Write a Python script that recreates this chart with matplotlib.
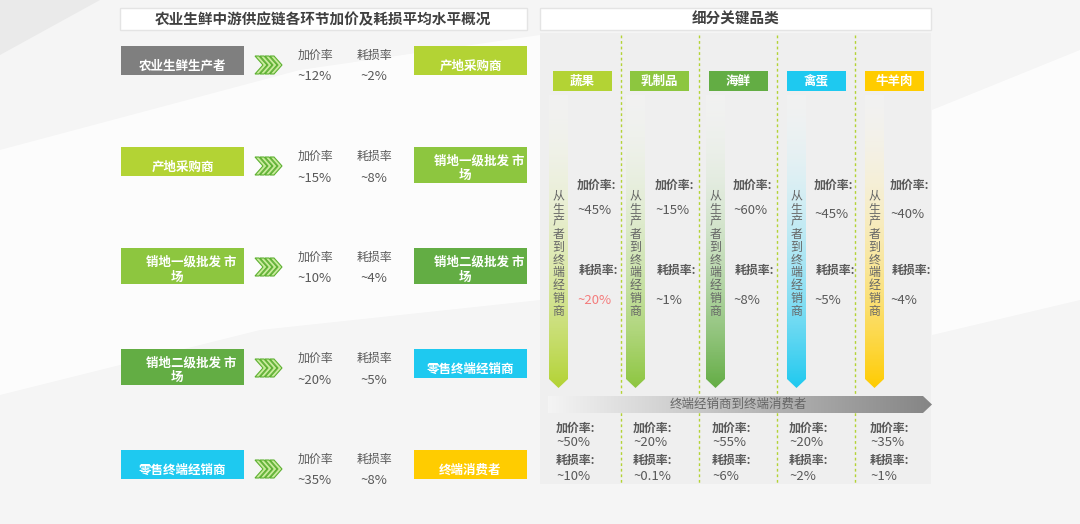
import matplotlib.pyplot as plt
import numpy as np
from matplotlib.patches import Rectangle, Polygon
from matplotlib.colors import to_rgb

plt.rcParams['font.family'] = ['Noto Sans CJK SC', 'DejaVu Sans']

# 供应链各环节（左侧）
stage_from = ["农业生鲜生产者", "产地采购商", "销地一级批发 市\n场", "销地二级批发 市\n场", "零售终端经销商"]
stage_to = ["产地采购商", "销地一级批发 市\n场", "销地二级批发 市\n场", "零售终端经销商", "终端消费者"]
stage_markup = [12, 15, 10, 20, 35]
stage_loss = [2, 8, 4, 5, 8]
stage_colors = {
    "农业生鲜生产者": "#7f7f7f",
    "产地采购商": "#b3d334",
    "销地一级批发 市\n场": "#8dc63f",
    "销地二级批发 市\n场": "#63ad44",
    "零售终端经销商": "#1ec9f0",
    "终端消费者": "#ffcc00",
}

# 细分关键品类（右侧）
categories = ["蔬果", "乳制品", "海鲜", "禽蛋", "牛羊肉"]
cat_colors = ["#b3d334", "#8dc63f", "#63ad44", "#1ec9f0", "#ffcc00"]
up_markup = [45, 15, 60, 45, 40]     # 从生产者到终端经销商
up_loss = [20, 1, 8, 5, 4]
down_markup = [50, 20, 55, 20, 35]   # 终端经销商到终端消费者
down_loss = [10, 0.1, 6, 2, 1]
up_loss_red = ["蔬果"]

TXT = "#595959"

fig = plt.figure(figsize=(10.8, 5.24), dpi=100, facecolor="#f5f5f5")
ax = fig.add_axes([0, 0, 1, 1])


def reset():
    ax.set_xlim(0, 1080)
    ax.set_ylim(524, 0)
    ax.axis("off")


reset()

# faint background streaks
ax.add_patch(Polygon([(0, 0), (100, 0), (0, 55)], color="#eaeaea", lw=0, zorder=0))
ax.add_patch(Polygon([(0, 150), (300, 70), (540, 35), (540, 300), (260, 330), (0, 395)],
                     color="white", alpha=0.75, lw=0, zorder=0))
ax.add_patch(Polygon([(932, 110), (1080, 50), (1080, 300), (932, 335)],
                     color="white", alpha=0.75, lw=0, zorder=0))


def gradient(x0, x1, y0, y1, c0, c1, a0, a1, clip, horizontal=False, n=256):
    t = np.linspace(0, 1, n)
    c0, c1 = np.array(to_rgb(c0)), np.array(to_rgb(c1))
    rgb = c0[None, :] * (1 - t[:, None]) + c1[None, :] * t[:, None]
    alpha = a0 + (a1 - a0) * t
    arr = np.concatenate([rgb, alpha[:, None]], axis=1)
    if horizontal:
        arr = arr[None, :, :]
    else:
        arr = arr[:, None, :]
    im = ax.imshow(arr, extent=(x0, x1, y1, y0), origin="upper", aspect="auto",
                   interpolation="bilinear", zorder=2)
    poly = Polygon(clip, transform=ax.transData)
    im.set_clip_path(poly)


def title_box(x0, x1, text):
    ax.add_patch(Rectangle((x0, 8), x1 - x0, 22, facecolor="white", edgecolor="#e4e4e4", lw=1, zorder=1))
    ax.text((x0 + x1) / 2, 19, text, ha="center", va="center", fontsize=10.5,
            fontweight="bold", color="#404040", zorder=3)


def stage_box(x0, y0, w, label):
    h = 36 if "\n" in label else 29
    ax.add_patch(Rectangle((x0, y0), w, h, facecolor=stage_colors[label], lw=0, zorder=1))
    cx = x0 + w / 2
    if "\n" in label:
        l1, l2 = label.split("\n")
        ax.text(cx + 9, y0 + 14, l1, ha="center", va="center", fontsize=9, fontweight="bold", color="white", zorder=3)
        ax.text(cx - 6, y0 + 29, l2, ha="center", va="center", fontsize=9, fontweight="bold", color="white", zorder=3)
    else:
        ax.text(cx, y0 + 20, label, ha="center", va="center", fontsize=9, fontweight="bold", color="white", zorder=3)


def chevrons(x, yc):
    for k in range(4):
        x0 = x + 5 * k
        pts = [(x0, yc - 9), (x0 + 4, yc - 9), (x0 + 12, yc), (x0 + 4, yc + 9), (x0, yc + 9), (x0 + 8, yc)]
        ax.add_patch(Polygon(pts, facecolor="#c9ea9c", edgecolor="#5cb030", lw=0.8, zorder=2))


# ---- left part ----
title_box(120, 527, "农业生鲜中游供应链各环节加价及耗损平均水平概况")
for i in range(len(stage_from)):
    top = 46 + 101 * i
    stage_box(121, top, 123, stage_from[i])
    stage_box(414, top, 113, stage_to[i])
    chevrons(255, top + 19)
    ax.text(315, top + 9, "加价率", ha="center", va="center", fontsize=8.6, color=TXT, zorder=3)
    ax.text(374, top + 9, "耗损率", ha="center", va="center", fontsize=8.6, color=TXT, zorder=3)
    ax.text(315, top + 31, f"~{stage_markup[i]}%", ha="center", va="center", fontsize=9.5, color=TXT, zorder=3)
    ax.text(374, top + 31, f"~{stage_loss[i]}%", ha="center", va="center", fontsize=9.5, color=TXT, zorder=3)

# ---- right part ----
title_box(540, 931, "细分关键品类")
ax.add_patch(Rectangle((540, 33), 391, 451, facecolor="#efefef", lw=0, zorder=0.5))
for x in [621, 699, 777, 855]:
    ax.plot([x, x], [35, 484], color="#b3d334", lw=1, ls=(0, (2, 2)), zorder=1)

box_x = [553, 630, 709, 787, 865]
arrow_x = [549, 626, 706, 787, 865]
label_x = [577, 655, 733, 814, 890]
bottom_x = [556, 633, 712, 789, 870]
markup_y = [210, 210, 210, 215, 215]

for i, cat in enumerate(categories):
    c = cat_colors[i]
    ax.add_patch(Rectangle((box_x[i], 71), 59, 20, facecolor=c, lw=0, zorder=1))
    ax.text(box_x[i] + 29.5, 81, cat, ha="center", va="center", fontsize=9, fontweight="bold", color="white", zorder=3)

    x0, w = arrow_x[i], 19
    pts = [(x0, 95), (x0 + w, 95), (x0 + w, 379), (x0 + w / 2, 388), (x0, 379)]
    gradient(x0, x0 + w, 95, 388, "#ffffff", c, 0.15, 1.0, pts)
    for j, ch in enumerate("从生产者到终端经销商"):
        ax.text(x0 + w / 2, 196 + 12.8 * j, ch, ha="center", va="center", fontsize=8.6, color="#666666", zorder=3)

    lx = label_x[i]
    ax.text(lx, 185, "加价率:", ha="left", va="center", fontsize=8.6, fontweight="bold", color=TXT, zorder=3)
    ax.text(lx, markup_y[i], f"~{up_markup[i]}%", ha="left", va="center", fontsize=9.5, color=TXT, zorder=3)
    ax.text(lx + 2, 270, "耗损率:", ha="left", va="center", fontsize=8.6, fontweight="bold", color=TXT, zorder=3)
    red = cat in up_loss_red
    ax.text(lx, 300, f"~{up_loss[i]}%", ha="left", va="center", fontsize=9.5,
            color="#f47c7c" if red else TXT, zorder=3)

    bx = bottom_x[i]
    ax.text(bx, 428, "加价率:", ha="left", va="center", fontsize=8.6, fontweight="bold", color=TXT, zorder=3)
    ax.text(bx, 443, f"~{down_markup[i]:g}%", ha="left", va="center", fontsize=9.5, color=TXT, zorder=3)
    ax.text(bx, 460, "耗损率:", ha="left", va="center", fontsize=8.6, fontweight="bold", color=TXT, zorder=3)
    ax.text(bx, 476, f"~{down_loss[i]:g}%", ha="left", va="center", fontsize=9.5, color=TXT, zorder=3)

# banner arrow
banner = [(548, 396), (923, 396), (932, 404.5), (923, 413), (548, 413)]
gradient(548, 932, 396, 413, "#f4f4f4", "#858585", 1.0, 1.0, banner, horizontal=True)
ax.text(738, 404.5, "终端经销商到终端消费者", ha="center", va="center", fontsize=9, color="#666666", zorder=3)

reset()
fig.savefig("out.png", dpi=100, facecolor=fig.get_facecolor())
